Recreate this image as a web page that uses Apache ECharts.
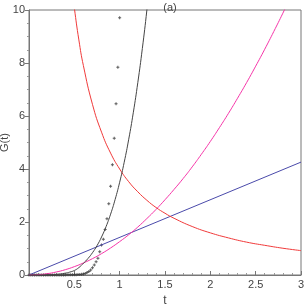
<!DOCTYPE html>
<html><head><meta charset="utf-8">
<script src="https://cdn.jsdelivr.net/npm/echarts@6/dist/echarts.min.js"></script>
<style>html,body{margin:0;padding:0;background:#fff}#c{width:304px;height:304px}</style>
</head><body><div id="c"></div>
<script>
// x tick labels and y tick labels
const xTicks = [0.5, 1, 1.5, 2, 2.5, 3];
const yTicks = [0, 2, 4, 6, 8, 10];
// blue straight line
const blueT = [0, 3];
const blueG = [0, 4.26];
// magenta rising curve
const magT = [0,0.1,0.2,0.3,0.4,0.5,0.6,0.7,0.8,0.9,1.0,1.1,1.2,1.3,1.4,1.5,1.6,1.7,1.8,1.9,2.0,2.1,2.2,2.3,2.4,2.5,2.6,2.7,2.8,2.9];
const magG = [0,0.013,0.05,0.113,0.20,0.315,0.454,0.617,0.806,1.02,1.26,1.52,1.81,2.13,2.47,2.84,3.23,3.64,4.08,4.55,5.04,5.56,6.10,6.67,7.26,7.88,8.52,9.19,9.88,10.60];
// red decreasing curve
const redT = [0.48,0.5,0.55,0.6,0.7,0.8,0.9,1.0,1.1,1.2,1.3,1.4,1.5,1.6,1.8,2.0,2.2,2.4,2.6,2.8,3.0];
const redG = [10.65,10.08,8.87,7.90,6.44,5.39,4.60,4.00,3.52,3.14,2.82,2.55,2.33,2.14,1.83,1.59,1.40,1.24,1.12,1.01,0.92];
// black steep curve
const blkT = [0,0.1,0.2,0.3,0.4,0.45,0.5,0.55,0.6,0.65,0.7,0.75,0.8,0.85,0.9,0.95,1.0,1.05,1.1,1.15,1.2,1.25,1.3,1.35];
const blkG = [0,0.0004,0.005,0.02,0.07,0.11,0.17,0.28,0.44,0.62,0.84,1.107,1.434,1.827,2.296,2.851,3.5,4.254,5.124,6.121,7.258,8.545,9.996,11.63];
// dotted data (crosses), t step 0.02
const dotT = [0,0.02,0.04,0.06,0.08,0.10,0.12,0.14,0.16,0.18,0.20,0.22,0.24,0.26,0.28,0.30,0.32,0.34,0.36,0.38,0.40,0.42,0.44,0.46,0.48,0.50,0.52,0.54,0.56,0.58,0.60,0.62,0.64,0.66,0.68,0.70,0.72,0.74,0.76,0.78,0.80,0.82,0.84,0.86,0.88,0.90,0.92,0.94,0.96,0.98,1.00];
const dotG = [0,0,0,0,0,0,0,0,0,0,0,0,0,0,0,0,0,0.002,0.002,0.003,0.004,0.005,0.006,0.007,0.008,0.01,0.012,0.015,0.02,0.03,0.04,0.06,0.09,0.13,0.19,0.27,0.38,0.50,0.63,0.88,1.13,1.35,1.72,2.12,2.69,3.35,4.16,5.16,6.46,7.84,9.71];

const zip = (a, b) => a.map((v, i) => [v, b[i]]);
const font = 'Liberation Sans, Arial, sans-serif';
const txt = '#444';
const axisCol = '#777';

const chart = echarts.init(document.getElementById('c'), null, {renderer: 'canvas'});
chart.setOption({
  animation: false,
  title: {text: '(a)', left: 165, top: -3, textAlign: 'center',
    textStyle: {fontSize: 11, fontWeight: 'normal', color: txt, fontFamily: font}},
  grid: {left: 29, right: 3, top: 10, bottom: 29, containLabel: false, outerBoundsMode: 'none',
    show: true, borderColor: axisCol, borderWidth: 1},
  xAxis: {type: 'value', min: 0, max: 3, interval: 0.5,
    name: 't', nameLocation: 'middle', nameGap: 20, nameMoveOverlap: false,
    nameTextStyle: {fontSize: 12, color: txt, fontFamily: font},
    axisLine: {show: true, lineStyle: {color: axisCol}},
    axisTick: {show: true, inside: true, length: 4, lineStyle: {color: axisCol}},
    minorTick: {show: true, splitNumber: 5, length: 2, lineStyle: {color: '#999'}},
    splitLine: {show: false},
    axisLabel: {showMinLabel: false, fontSize: 11, color: txt, fontFamily: font, margin: 4,
      formatter: v => xTicks.includes(v) ? String(v) : ''}},
  yAxis: {type: 'value', min: 0, max: 10, interval: 2,
    name: 'G(t)', nameLocation: 'middle', nameGap: 19, nameMoveOverlap: false,
    nameTextStyle: {fontSize: 11, color: txt, fontFamily: font},
    axisLine: {show: true, lineStyle: {color: axisCol}},
    axisTick: {show: true, length: 4, lineStyle: {color: axisCol}},
    minorTick: {show: true, splitNumber: 4, length: 2, lineStyle: {color: '#999'}},
    splitLine: {show: false},
    axisLabel: {fontSize: 11, color: txt, fontFamily: font, margin: 4,
      formatter: v => yTicks.includes(v) ? String(v) : ''}},
  series: [
    {type: 'line', data: zip(blueT, blueG), showSymbol: false, lineStyle: {color: '#4a4aaa', width: 1}},
    {type: 'line', data: zip(magT, magG), smooth: true, showSymbol: false, lineStyle: {color: '#f535a8', width: 1}},
    {type: 'line', data: zip(redT, redG), smooth: true, showSymbol: false, lineStyle: {color: '#f03a3a', width: 1}},
    {type: 'line', data: zip(blkT, blkG), smooth: true, showSymbol: false, lineStyle: {color: '#444', width: 1}},
    {type: 'scatter', data: zip(dotT, dotG), symbol: 'path://M1,0H2V1H3V2H2V3H1V2H0V1H1Z', symbolSize: 3,
      itemStyle: {color: '#333'}}
  ]
});
</script></body></html>
